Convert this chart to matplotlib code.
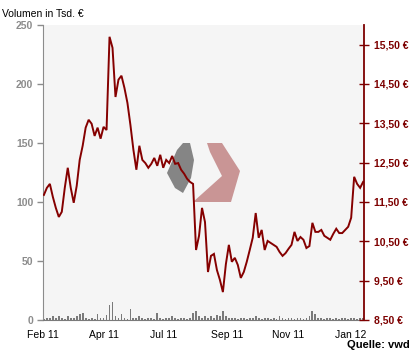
import numpy as np
import matplotlib.pyplot as plt
from matplotlib.patches import Polygon

# Schlusskurse (EUR), ungefähr alle drei Handelstage
price = [11.68, 11.86, 11.96, 11.63, 11.35, 11.12, 11.25, 11.86, 12.37, 11.86,
         11.48, 11.91, 12.57, 12.93, 13.39, 13.59, 13.49, 13.18, 13.39, 13.11,
         13.41, 13.33, 15.70, 15.42, 14.17, 14.61, 14.71, 14.40, 14.02, 13.46,
         12.83, 12.32, 12.93, 12.57, 12.49, 12.37, 12.47, 12.62, 12.42, 12.70,
         12.37, 12.57, 12.49, 12.67, 12.47, 12.49, 12.32, 12.22, 12.09, 12.01,
         11.96, 10.28, 10.64, 11.35, 10.99, 9.72, 10.13, 10.18, 9.77, 9.52,
         9.21, 9.92, 10.41, 9.98, 10.08, 9.90, 9.57, 9.72, 9.98, 10.28,
         10.59, 11.22, 10.59, 10.79, 10.28, 10.51, 10.46, 10.41, 10.36, 10.23,
         10.13, 10.20, 10.31, 10.41, 10.74, 10.51, 10.61, 10.54, 10.33, 10.38,
         10.97, 10.74, 10.74, 10.79, 10.64, 10.59, 10.54, 10.69, 10.82, 10.71,
         10.71, 10.79, 10.87, 11.10, 12.14, 11.96, 11.86, 12.01]

# Umsatz in Tsd. EUR
volume = [1, 2, 2, 3, 2, 3, 2, 1, 3, 2,
          2, 3, 5, 6, 2, 1, 2, 1, 5, 2,
          2, 4, 13, 15, 3, 2, 5, 2, 1, 9,
          2, 2, 3, 2, 1, 2, 2, 1, 6, 2,
          1, 2, 2, 3, 2, 1, 2, 2, 1, 2,
          6, 8, 3, 2, 3, 2, 3, 2, 4, 3,
          8, 3, 2, 2, 2, 1, 2, 2, 1, 2,
          2, 3, 2, 1, 2, 2, 1, 2, 1, 3,
          2, 1, 2, 2, 1, 2, 2, 1, 2, 3,
          8, 5, 2, 2, 1, 2, 2, 1, 2, 1,
          2, 2, 1, 2, 2, 1, 2, 2]

x_labels = ['Feb 11', 'Apr 11', 'Jul 11', 'Sep 11', 'Nov 11', 'Jan 12']
x_label_pos = [-0.3, 20.3, 40.0, 61.3, 82.0, 103.0]
vol_ticks = [0, 50, 100, 150, 200, 250]
price_ticks = [8.5, 9.5, 10.5, 11.5, 12.5, 13.5, 14.5, 15.5]

RED = '#7d0000'
GREY = '#8c8c8c'

plt.rcParams['font.family'] = ['Liberation Sans', 'DejaVu Sans']

W, H = 415, 352
fig = plt.figure(figsize=(W / 100, H / 100), dpi=100)
ax = fig.add_axes([43 / W, 32 / H, 321 / W, 295 / H])
ax.set_facecolor('#f5f5f5')

x = np.arange(len(price))
ax.bar(x, volume, width=0.6, color='#7a7a7a', zorder=2)
ax.set_xlim(-0.3, len(price) - 0.7)
ax.set_ylim(0, 250)

ax.set_yticks(vol_ticks)
ax.set_yticklabels([str(v) for v in vol_ticks], color=GREY,
                   fontsize=7.5, fontweight='bold')
ax.tick_params(axis='y', length=4, width=1, color=GREY, pad=3)
ax.set_xticks(x_label_pos)
ax.set_xticklabels(x_labels, fontsize=7.5)
ax.tick_params(axis='x', length=0, pad=7)
for s in ('top', 'right'):
    ax.spines[s].set_visible(False)
ax.spines['left'].set_color(GREY)
ax.spines['bottom'].set_color('#7a7a7a')

# Logo im Hintergrund (Figurenkoordinaten in Pixeln)
def px(pts):
    return [(a / W, 1 - b / H) for a, b in pts]

grey_logo = [(183, 143), (190, 143), (194, 160), (191, 178), (183, 193),
             (175, 188), (167, 173), (177, 150)]
red_logo = [(207, 143), (222, 143), (240, 171), (231, 202), (193, 202),
            (222, 176), (210, 152)]
ax.add_patch(Polygon(px(grey_logo), closed=True, transform=fig.transFigure,
                     color='#858585', lw=0, zorder=1))
ax.add_patch(Polygon(px(red_logo), closed=True, transform=fig.transFigure,
                     color='#c99595', lw=0, zorder=1))

ax2 = ax.twinx()
ax2.plot(x, price, color='#850000', lw=1.4, solid_joinstyle='miter')
ax2.set_ylim(8.5, 16.0)
ax2.set_yticks(price_ticks)
ax2.set_yticklabels([f'{p:.2f} €'.replace('.', ',') for p in price_ticks],
                    color=RED, fontsize=7.5, fontweight='bold')
ax2.tick_params(axis='y', direction='inout', length=7, width=1, color=RED, pad=4)
for s in ('top', 'left', 'bottom'):
    ax2.spines[s].set_visible(False)
ax2.spines['right'].set_color(RED)
ax2.spines['right'].set_linewidth(1.3)

fig.text(2 / W, 1 - 14 / H, 'Volumen in Tsd. €', fontsize=7.5, va='center')
fig.text(410 / W, 1 - 345 / H, 'Quelle: vwd', fontsize=8, fontweight='bold',
         ha='right', va='center')

fig.savefig('out.png', dpi=100, facecolor='white')
